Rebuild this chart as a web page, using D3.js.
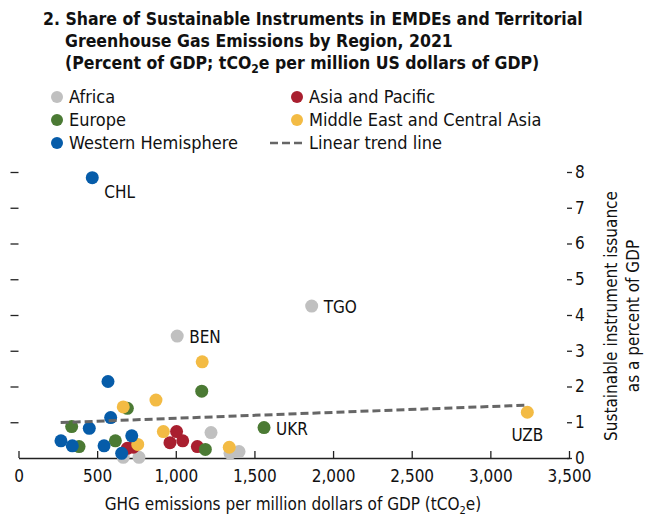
<!DOCTYPE html>
<html>
<head>
<meta charset="utf-8">
<script src="https://cdn.jsdelivr.net/npm/d3@7"></script>
<style>
  body { margin: 0; background: #fff; }
  svg text { font-family: "Liberation Sans Narrow", "Arial Narrow", "DejaVu Sans Condensed", sans-serif; fill: #111; }
</style>
</head>
<body>
<div id="chart"></div>
<script>
// region names and colours
const regions = ["Africa", "Asia and Pacific", "Europe", "Middle East and Central Asia", "Western Hemisphere"];
const colors = ["#c0c0c0", "#a91f2f", "#4b7a34", "#f3bb44", "#065ca9"];

// points per region: [GHG per million $ GDP, sustainable issuance % of GDP]
const africa = [[1864, 4.25], [1009, 3.41], [1224, 0.71], [1345, 0.13], [1402, 0.18], [666, 0.02], [766, 0.02]];
const asiaPacific = [[1005, 0.74], [963, 0.43], [1044, 0.48], [1137, 0.32], [692, 0.27], [730, 0.30]];
const europe = [[1165, 1.87], [692, 1.39], [338, 0.88], [385, 0.32], [616, 0.48], [1188, 0.24], [1561, 0.85]];
const middleEast = [[1168, 2.69], [874, 1.62], [666, 1.43], [921, 0.74], [758, 0.38], [1340, 0.30], [3235, 1.28]];
const westernHem = [[469, 7.84], [569, 2.14], [586, 1.13], [450, 0.83], [270, 0.48], [342, 0.34], [544, 0.34], [720, 0.62], [656, 0.13]];
const series = [africa, asiaPacific, europe, middleEast, westernHem];

// labelled countries: [code, x, y, anchor]
const labels = [["CHL", 469, 7.84, "start"], ["BEN", 1009, 3.41, "start"], ["TGO", 1864, 4.25, "start"],
                ["UKR", 1561, 0.85, "start"], ["UZB", 3235, 1.28, "middle"]];

const trendX = [268, 3240];
const trendY = [0.99, 1.48];

const xTicks = [0, 500, 1000, 1500, 2000, 2500, 3000, 3500];
const yTicks = [0, 1, 2, 3, 4, 5, 6, 7, 8];

const width = 650, height = 518;

const svg = d3.select("#chart").append("svg")
    .attr("width", width)
    .attr("height", height);

const x = d3.scaleLinear().domain([0, 3500]).range([18.5, 569]);
const y = d3.scaleLinear().domain([0, 8]).range([458, 172]);

// title
const title = svg.append("text").attr("font-weight", "bold").attr("font-size", 17.5);
title.append("tspan").attr("x", 43).attr("y", 25).text("2. Share of Sustainable Instruments in EMDEs and Territorial");
title.append("tspan").attr("x", 65).attr("y", 47).text("Greenhouse Gas Emissions by Region, 2021");
title.append("tspan").attr("x", 65).attr("y", 69).text("(Percent of GDP; tCO");
title.append("tspan").attr("font-size", 12).attr("dy", 4).text("2");
title.append("tspan").attr("dy", -4).text("e per million US dollars of GDP)");

// legend
const legendPos = [[57, 97], [297, 97], [57, 120], [297, 120], [57, 143]];
regions.forEach((r, i) => {
    const [lx, ly] = legendPos[i];
    svg.append("circle").attr("cx", lx).attr("cy", ly).attr("r", 6).attr("fill", colors[i]);
    svg.append("text").attr("x", lx + 12).attr("y", ly + 6).attr("font-size", 18).text(r);
});
svg.append("line").attr("x1", 270).attr("x2", 303).attr("y1", 143).attr("y2", 143)
    .attr("stroke", "#666").attr("stroke-width", 2.5).attr("stroke-dasharray", "8,4");
svg.append("text").attr("x", 309).attr("y", 149).attr("font-size", 18).text("Linear trend line");

// x axis, ticks pointing up
const xAxis = svg.append("g")
    .attr("transform", `translate(0, ${y(0)})`)
    .call(d3.axisBottom(x).tickValues(xTicks).tickSize(0).tickPadding(12).tickFormat(d3.format(",")));
xAxis.select(".domain").attr("stroke", "#222").attr("stroke-width", 1.5);
xAxis.selectAll(".tick text").attr("font-size", 17);
xAxis.selectAll(".tick").append("line").attr("y1", 0).attr("y2", -7).attr("stroke", "#222").attr("stroke-width", 1.3);

// left ticks, no labels
const leftAxis = svg.append("g")
    .attr("transform", `translate(${x(0)}, 0)`)
    .call(d3.axisLeft(y).tickValues(yTicks.slice(1)).tickSize(8).tickFormat(""));
leftAxis.select(".domain").remove();
leftAxis.selectAll(".tick line").attr("stroke", "#222").attr("stroke-width", 1.3);

// right axis
const rightAxis = svg.append("g")
    .attr("transform", `translate(${x(3500) - 2}, 0)`)
    .call(d3.axisRight(y).tickValues(yTicks).tickSize(5).tickPadding(3));
rightAxis.select(".domain").remove();
rightAxis.selectAll(".tick line").attr("stroke", "#222").attr("stroke-width", 1.3);
rightAxis.selectAll(".tick text").attr("font-size", 17);

// axis titles
const xt = svg.append("text").attr("x", 293).attr("y", 510).attr("text-anchor", "middle").attr("font-size", 17);
xt.append("tspan").text("GHG emissions per million dollars of GDP (tCO");
xt.append("tspan").attr("font-size", 11).attr("dy", 4).text("2");
xt.append("tspan").attr("dy", -4).text("e)");

const yt = svg.append("text").attr("transform", `translate(617, 316) rotate(-90)`)
    .attr("text-anchor", "middle").attr("font-size", 17);
yt.append("tspan").attr("x", 0).attr("y", 0).text("Sustainable instrument issuance");
yt.append("tspan").attr("x", 0).attr("y", 22).text("as a percent of GDP");

// points
series.forEach((pts, i) => {
    svg.append("g").selectAll("circle").data(pts).join("circle")
        .attr("cx", d => x(d[0]))
        .attr("cy", d => y(d[1]))
        .attr("r", 6.5)
        .attr("fill", colors[i]);
});

// trend line
svg.append("line")
    .attr("x1", x(trendX[0])).attr("y1", y(trendY[0]))
    .attr("x2", x(trendX[1])).attr("y2", y(trendY[1]))
    .attr("stroke", "#666").attr("stroke-width", 3).attr("stroke-dasharray", "8,4");

// country labels
svg.append("g").selectAll("text").data(labels).join("text")
    .attr("x", d => d[3] === "middle" ? x(d[1]) : x(d[1]) + 12)
    .attr("y", d => d[3] === "middle" ? y(d[2]) + 29 : (d[0] === "CHL" ? y(d[2]) + 20 : y(d[2]) + 7))
    .attr("text-anchor", d => d[3])
    .attr("font-size", 17)
    .text(d => d[0]);
</script>
</body>
</html>
